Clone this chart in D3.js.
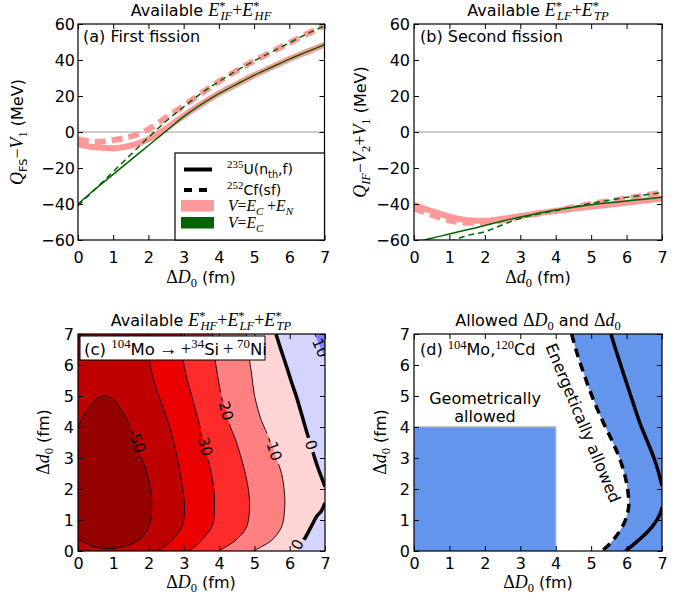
<!DOCTYPE html>
<html><head><meta charset="utf-8">
<script src="https://cdn.jsdelivr.net/npm/d3@7"></script>
<style>body{margin:0;background:#fff}</style>
</head><body>
<svg id="c" width="689" height="600" xmlns="http://www.w3.org/2000/svg"></svg>
<script>
// ---------------- DATA ----------------
const xGrid = [0,0.5,1,1.5,2,2.5,3,3.5,4,4.5,5,5.5,6,6.5,7];
// panel (a): Q_FS - V1 (MeV)
const aU_ECEN  = [-6.7,-8.5,-9,-7.5,-4,2,9,15.5,21.5,26.5,31.5,36,40.5,44.5,48.5];
const aCf_ECEN = [-4,-5.5,-4.5,-2.5,1.5,8,14.5,21.5,28,34,39.5,44.5,49.5,54.5,59];
const aU_EC    = [-40,-31.5,-23.5,-15.5,-7.5,0.5,8.5,15.3,21.3,26.5,31.5,36,40.5,44.5,48.5];
const aCf_EC   = [-41,-31.5,-22,-12.5,-3,6,14,21.5,28,34,39.5,44.5,49.5,54.5,59];
// panel (b): Q_IF - V2 + V1 (MeV)
const bU_ECEN  = [-40.5,-44,-47,-49,-49.3,-48.2,-46.7,-45.2,-43.9,-42.7,-41.5,-40.4,-39.3,-38.1,-36.9];
const bCf_ECEN = [-42.4,-46,-49,-50.4,-50.4,-49,-47,-45.3,-43.7,-41.8,-40,-38.4,-36.9,-35.3,-33.7];
const bU_EC    = [-61.5,-59,-56.7,-54.3,-52,-49.5,-47.2,-45.2,-43.3,-41.8,-40.4,-39.3,-38.3,-37.3,-36.3];
const bCf_EC   = [null,null,-61,-57.5,-55.4,-51.5,-48,-45.6,-43.7,-41.6,-39.6,-37.9,-36.3,-35,-33.7];
const xTicks = [0,1,2,3,4,5,6,7];
const yTicksAB = [-60,-40,-20,0,20,40,60];
const yTicksCD = [0,1,2,3,4,5,6,7];
// panel (c): contour lines [ΔD0, Δd0] of available energy (MeV)
const cLevels = [-50,-40,-30,-20,-10,0,10];
const cColors = ["#950000","#bf0000","#ea0000","#ff2a2a","#ff8080","#ffd4d4","#d4d4ff","#8080ff"];
const c_m50 = [[0,4.0],[0.29,4.6],[0.55,4.93],[0.76,5.02],[0.98,4.9],[1.2,4.6],[1.43,4.12],[1.6,3.7],[1.76,3.16],[1.95,2.5],[2.07,1.9],[2.09,1.5],[2.04,0.9],[1.85,0.5],[1.55,0.25],[1.1,0.1],[0.76,0.08],[0.45,0.14],[0.2,0.26],[0,0.38]];
const c_m40 = [[1.97,7],[1.99,6.5],[2.06,5.9],[2.2,5.3],[2.45,4.5],[2.7,3.58],[2.85,2.8],[2.95,2.1],[3.02,1.43],[2.94,0.78],[2.6,0.3],[2.4,0.12],[2.2,0]];
const c_m30 = [[2.94,7],[2.96,6.4],[3.02,5.9],[3.2,5.1],[3.38,4.35],[3.55,3.6],[3.72,2.8],[3.83,2.18],[3.87,1.43],[3.8,0.8],[3.46,0.3],[3.3,0.13],[3.12,0]];
const c_m20 = [[3.82,7],[3.86,6.4],[3.95,5.7],[4.07,4.98],[4.2,4.5],[4.32,4.0],[4.47,3.58],[4.65,2.9],[4.78,2.3],[4.86,1.6],[4.78,0.78],[4.45,0.33],[4.2,0.14],[3.98,0]];
const c_m10 = [[4.77,7],[4.83,6.4],[4.92,5.7],[5.01,4.98],[5.2,4.2],[5.44,3.58],[5.62,3.0],[5.77,2.5],[5.85,1.9],[5.86,1.43],[5.77,0.78],[5.49,0.35],[5.2,0.14],[4.97,0]];
const c_0a  = [[5.61,7],[5.75,6.5],[5.91,5.95],[6.05,5.45],[6.19,4.98],[6.34,4.4],[6.48,3.85],[6.6,3.42],[6.71,2.99],[6.82,2.62],[6.93,2.29],[7,2.08]];
const c_0b  = [[7,1.55],[6.9,1.3],[6.76,1.11],[6.6,0.77],[6.43,0.41],[6.3,0.2],[6.2,0]];
const c_10  = [[6.71,7],[6.8,6.75],[6.9,6.48],[7,6.23]];
const cLabelText = ["-50","-30","-20","-10","0","0","10"];
// panel (d): zero-energy boundaries
const dCf = [[4.45,7],[4.57,6.5],[4.77,5.8],[5.03,4.98],[5.3,4.25],[5.58,3.58],[5.8,3.0],[5.96,2.4],[6.04,1.9],[6.06,1.43],[5.95,0.95],[5.72,0.5],[5.5,0.2],[5.3,0]];
const dMoTop = [[5.56,7],[5.72,6.4],[5.91,5.73],[6.15,4.9],[6.38,4.12],[6.58,3.55],[6.76,3.04],[6.9,2.55],[7,2.1]];
const dMoBot = [[7,1.42],[6.95,1.2],[6.72,0.78],[6.34,0.35],[5.97,0]];
const geoLimit = [4,4];

// ---------------- HELPERS ----------------
const SANS = "'DejaVu Sans', sans-serif";
const SERIF = "'Liberation Serif', 'DejaVu Serif', serif";
const svg = d3.select('#c');
const defs = svg.append('defs');

function rich(sel, segs, size) {
  let cur = 0;
  segs.forEach(s => {
    const [txt, style, pos, dx] = s;
    let fs = size, shift = 0;
    if (pos === 'sub') { fs = size*0.7; shift = size*0.25; }
    if (pos === 'sup') { fs = size*0.7; shift = -size*0.4; }
    const ts = sel.append('tspan').text(txt)
      .attr('font-family', style === 'n' ? SANS : SERIF)
      .attr('font-style', style === 'i' ? 'italic' : 'normal')
      .attr('font-size', style === 'n' ? fs : fs*1.12);
    if (shift !== cur) { ts.attr('dy', shift - cur); cur = shift; }
    if (dx) ts.attr('dx', dx);
  });
  return sel;
}
function txt(parent, x, y, segs, size, anchor, rot) {
  const t = parent.append('text').attr('x', x).attr('y', y)
    .attr('text-anchor', anchor || 'start').attr('fill', '#000');
  if (rot) t.attr('transform', `rotate(${rot},${x},${y})`);
  return rich(t, segs, size);
}

function setup(p, ydom, id) {
  const w = p.r - p.l, h = p.b - p.t;
  const g = svg.append('g').attr('transform', `translate(${p.l},${p.t})`);
  const x = d3.scaleLinear().domain([0,7]).range([0,w]);
  const y = d3.scaleLinear().domain(ydom).range([h,0]);
  defs.append('clipPath').attr('id', id).append('rect').attr('width', w).attr('height', h);
  const plot = g.append('g').attr('clip-path', `url(#${id})`);
  return {g, plot, x, y, w, h, p};
}
function axes(P, yt, padB, padL) {
  const {g, x, y, w, h} = P;
  const ag = g.append('g');
  ag.append('g').attr('transform', `translate(0,${h})`)
    .call(d3.axisBottom(x).tickValues(xTicks).tickSize(-5).tickPadding(padB).tickFormat(d3.format('d')));
  ag.append('g').call(d3.axisTop(x).tickValues(xTicks).tickSize(-5).tickFormat(''));
  ag.append('g').call(d3.axisLeft(y).tickValues(yt).tickSize(-5).tickPadding(padL).tickFormat(d3.format('d')));
  ag.append('g').attr('transform', `translate(${w},0)`)
    .call(d3.axisRight(y).tickValues(yt).tickSize(-5).tickFormat(''));
  ag.selectAll('.domain').remove();
  ag.selectAll('.tick text').attr('font-family', SANS).attr('font-size', 16).attr('fill', '#000');
  ag.selectAll('.tick line').attr('stroke', '#000').attr('stroke-width', 1);
  ag.append('rect').attr('width', w).attr('height', h).attr('fill', 'none')
    .attr('stroke', '#000').attr('stroke-width', 1.2);
}
function series(P, vals, color, width, dash) {
  const pts = xGrid.map((xv, i) => [xv, vals[i]]);
  P.plot.append('path')
    .attr('d', d3.line().defined(d => d[1] != null).x(d => P.x(d[0])).y(d => P.y(d[1])).curve(d3.curveMonotoneX)(pts))
    .attr('fill', 'none').attr('stroke', color).attr('stroke-width', width)
    .attr('stroke-dasharray', dash || null);
}
const cl = P => d3.line().x(d => P.x(d[0])).y(d => P.y(d[1])).curve(d3.curveCatmullRom.alpha(0.5));

const PINK = '#ff9999', GREEN = '#006400';

// ---------------- PANEL A ----------------
const A = setup({l:78, r:324.5, t:24, b:240}, [-60,60], 'clipA');
A.plot.append('line').attr('x1', 0).attr('x2', A.w).attr('y1', A.y(0)).attr('y2', A.y(0))
  .attr('stroke', '#bdbdbd').attr('stroke-width', 1.5);
series(A, aU_ECEN, PINK, 6);
series(A, aCf_ECEN, PINK, 6, '11,6');
series(A, aU_EC, GREEN, 1.5);
series(A, aCf_EC, GREEN, 1.5, '6,4');
axes(A, yTicksAB, 11.5, 3);
// legend
const lg = svg.append('g');
lg.append('rect').attr('x', 175).attr('y', 153).attr('width', 149.5).attr('height', 87)
  .attr('fill', '#fff').attr('stroke', '#000').attr('stroke-width', 1.2);
lg.append('line').attr('x1', 184).attr('x2', 212).attr('y1', 169.5).attr('y2', 169.5).attr('stroke', '#000').attr('stroke-width', 4);
lg.append('line').attr('x1', 184).attr('x2', 212).attr('y1', 190).attr('y2', 190).attr('stroke', '#000').attr('stroke-width', 4).attr('stroke-dasharray', '8,7');
lg.append('rect').attr('x', 181).attr('y', 200).attr('width', 33).attr('height', 11.5).attr('fill', PINK);
lg.append('rect').attr('x', 181).attr('y', 217).attr('width', 33).attr('height', 11.5).attr('fill', GREEN);
txt(lg, 227, 174, [["235",'r','sup'],["U(n",'n'],["th",'n','sub'],[",f)",'n']], 14);
txt(lg, 227, 195, [["252",'r','sup'],["Cf(sf)",'n']], 14);
txt(lg, 228, 211, [["V",'i'],["=",'r'],["E",'i'],["C",'i','sub'],[" +",'r'],["E",'i'],["N",'i','sub']], 14);
txt(lg, 228, 228, [["V",'i'],["=",'r'],["E",'i'],["C",'i','sub']], 14);
txt(svg, 83, 42, [["(a) First fission",'n']], 16);
txt(svg, 201, 16, [["Available ",'n'],["E",'i'],["*",'r','sup'],["IF",'i','sub',-5],["+",'r'],["E",'i'],["*",'r','sup'],["HF",'i','sub',-5]], 16, 'middle');
txt(svg, 201, 283, [["Δ",'r'],["D",'i'],["0",'r','sub'],[" (fm)",'n']], 16, 'middle');
txt(svg, 23, 132, [["Q",'i'],["FS",'n','sub'],["−",'r'],["V",'i'],["1",'r','sub'],[" (MeV)",'n']], 16, 'middle', -90);

// ---------------- PANEL B ----------------
const B = setup({l:414, r:662, t:24, b:240}, [-60,60], 'clipB');
B.plot.append('line').attr('x1', 0).attr('x2', B.w).attr('y1', B.y(0)).attr('y2', B.y(0))
  .attr('stroke', '#bdbdbd').attr('stroke-width', 1.5);
series(B, bU_ECEN, PINK, 6);
series(B, bCf_ECEN, PINK, 6, '11,6');
series(B, bU_EC, GREEN, 1.5);
series(B, bCf_EC, GREEN, 1.5, '6,4');
axes(B, yTicksAB, 11.5, 4);
txt(svg, 420, 42, [["(b) Second fission",'n']], 16);
txt(svg, 538, 16, [["Available ",'n'],["E",'i'],["*",'r','sup'],["LF",'i','sub',-5],["+",'r'],["E",'i'],["*",'r','sup'],["TP",'i','sub',-5]], 16, 'middle');
txt(svg, 538, 283, [["Δ",'r'],["d",'i'],["0",'r','sub'],[" (fm)",'n']], 16, 'middle');
txt(svg, 366, 132, [["Q",'i'],["IF",'i','sub'],["−",'r'],["V",'i'],["2",'r','sub'],["+",'r'],["V",'i'],["1",'r','sub'],[" (MeV)",'n']], 16, 'middle', -90);

// ---------------- PANEL C ----------------
const C = setup({l:78, r:325, t:334, b:551}, [0,7], 'clipC');
const clC = cl(C);
const X7 = C.x(7), Y0 = C.y(0), Y7 = C.y(7);
C.plot.append('rect').attr('width', C.w).attr('height', C.h).attr('fill', cColors[1]);
[[c_m40, 2],[c_m30, 3],[c_m20, 4],[c_m10, 5]].forEach(([pts, ci]) => {
  C.plot.append('path').attr('d', clC(pts) + `L${X7},${Y0}L${X7},${Y7}Z`).attr('fill', cColors[ci]);
});
C.plot.append('path').attr('d', clC(c_0a) + `L${X7},${Y7}Z`).attr('fill', cColors[6]);
C.plot.append('path').attr('d', clC(c_0b) + `L${X7},${Y0}Z`).attr('fill', cColors[6]);
C.plot.append('path').attr('d', clC(c_10) + `L${X7},${Y7}Z`).attr('fill', cColors[7]);
C.plot.append('path').attr('d', clC(c_m50) + 'Z').attr('fill', cColors[0]);
// labels (positions along lines)
const labPos = [[1.66,3.55,69],[3.58,3.45,75],[4.17,4.6,75],[5.53,3.3,71],[6.6,3.42,73],[6.22,0.2,-62],[6.86,6.55,67]];
const mask = defs.append('mask').attr('id', 'mkC').attr('maskUnits', 'userSpaceOnUse')
  .attr('x', -20).attr('y', -20).attr('width', C.w + 40).attr('height', C.h + 40);
mask.append('rect').attr('x', -20).attr('y', -20).attr('width', C.w + 40).attr('height', C.h + 40).attr('fill', '#fff');
labPos.forEach(([lx, ly, r], i) => {
  const wl = cLabelText[i].length * 9 + 6;
  mask.append('rect').attr('x', -wl/2).attr('y', -7).attr('width', wl).attr('height', 14)
    .attr('transform', `translate(${C.x(lx)},${C.y(ly)}) rotate(${r})`).attr('fill', '#000');
});
const lines = C.plot.append('g').attr('mask', 'url(#mkC)').attr('fill', 'none').attr('stroke', '#000');
[c_m50, c_m40, c_m30, c_m20, c_m10, c_10].forEach(pts => lines.append('path').attr('d', clC(pts)).attr('stroke-width', 0.9));
[c_0a, c_0b].forEach(pts => lines.append('path').attr('d', clC(pts)).attr('stroke-width', 3.5));
labPos.forEach(([lx, ly, r], i) => {
  C.plot.append('text').attr('x', 0).attr('y', 0).attr('text-anchor', 'middle').attr('dominant-baseline', 'central')
    .attr('transform', `translate(${C.x(lx)},${C.y(ly)}) rotate(${r})`)
    .attr('font-family', SANS).attr('font-size', 15).attr('fill', '#000').text(cLabelText[i]);
});
axes(C, yTicksCD, 6.5, 4);
svg.append('rect').attr('x', 80).attr('y', 336).attr('width', 185).attr('height', 24)
  .attr('fill', '#fff').attr('stroke', '#000').attr('stroke-width', 1);
txt(svg, 84, 355, [["(c) ",'n'],["104",'r','sup'],["Mo",'n'],["\u2009→\u2009+",'r'],["34",'r','sup'],["Si",'n'],["\u2009+\u2009",'r'],["70",'r','sup'],["Ni",'n']], 16.5);
txt(svg, 201, 326, [["Available ",'n'],["E",'i'],["*",'r','sup'],["HF",'i','sub',-5],["+",'r'],["E",'i'],["*",'r','sup'],["LF",'i','sub',-5],["+",'r'],["E",'i'],["*",'r','sup'],["TP",'i','sub',-5]], 16, 'middle');
txt(svg, 201, 588, [["Δ",'r'],["D",'i'],["0",'r','sub'],[" (fm)",'n']], 16, 'middle');
txt(svg, 49, 442, [["Δ",'r'],["d",'i'],["0",'r','sub'],[" (fm)",'n']], 16, 'middle', -90);

// ---------------- PANEL D ----------------
const D = setup({l:414, r:662, t:334, b:551}, [0,7], 'clipD');
const clD = cl(D);
const BLUE = '#6495ed';
D.plot.append('path').attr('d', clD(dCf) + `L${D.x(7)},${D.y(0)}L${D.x(7)},${D.y(7)}Z`).attr('fill', BLUE);
D.plot.append('rect').attr('x', D.x(0)).attr('y', D.y(geoLimit[1])).attr('width', D.x(geoLimit[0]) - D.x(0))
  .attr('height', D.y(0) - D.y(geoLimit[1])).attr('fill', BLUE);
D.plot.append('path').attr('d', `M${D.x(0)},${D.y(geoLimit[1])}L${D.x(geoLimit[0])},${D.y(geoLimit[1])}L${D.x(geoLimit[0])},${D.y(0)}`)
  .attr('fill', 'none').attr('stroke', '#b0b0b0').attr('stroke-width', 1.5);
D.plot.append('path').attr('d', clD(dCf)).attr('fill', 'none').attr('stroke', '#000').attr('stroke-width', 3.5).attr('stroke-dasharray', '9,6');
D.plot.append('path').attr('d', clD(dMoTop)).attr('fill', 'none').attr('stroke', '#000').attr('stroke-width', 3.5);
D.plot.append('path').attr('d', clD(dMoBot)).attr('fill', 'none').attr('stroke', '#000').attr('stroke-width', 3.5);
axes(D, yTicksCD, 6.5, 4);
txt(svg, 420, 355, [["(d) ",'n'],["104",'r','sup'],["Mo,",'n'],["120",'r','sup'],["Cd",'n']], 16);
txt(svg, 485, 404, [["Geometrically",'n']], 16, 'middle');
txt(svg, 485, 421.5, [["allowed",'n']], 16, 'middle');
svg.append('text').attr('x', 0).attr('y', 0).attr('text-anchor', 'middle').attr('dominant-baseline', 'central')
  .attr('transform', 'translate(583,423) rotate(67.5)').attr('font-family', SANS).attr('font-size', 16)
  .attr('fill', '#000').text('Energetically allowed');
txt(svg, 538, 326, [["Allowed ",'n'],["Δ",'r'],["D",'i'],["0",'r','sub'],[" and ",'n'],["Δ",'r'],["d",'i'],["0",'r','sub']], 16, 'middle');
txt(svg, 538, 588, [["Δ",'r'],["D",'i'],["0",'r','sub'],[" (fm)",'n']], 16, 'middle');
txt(svg, 386, 442, [["Δ",'r'],["d",'i'],["0",'r','sub'],[" (fm)",'n']], 16, 'middle', -90);
</script>
</body></html>
